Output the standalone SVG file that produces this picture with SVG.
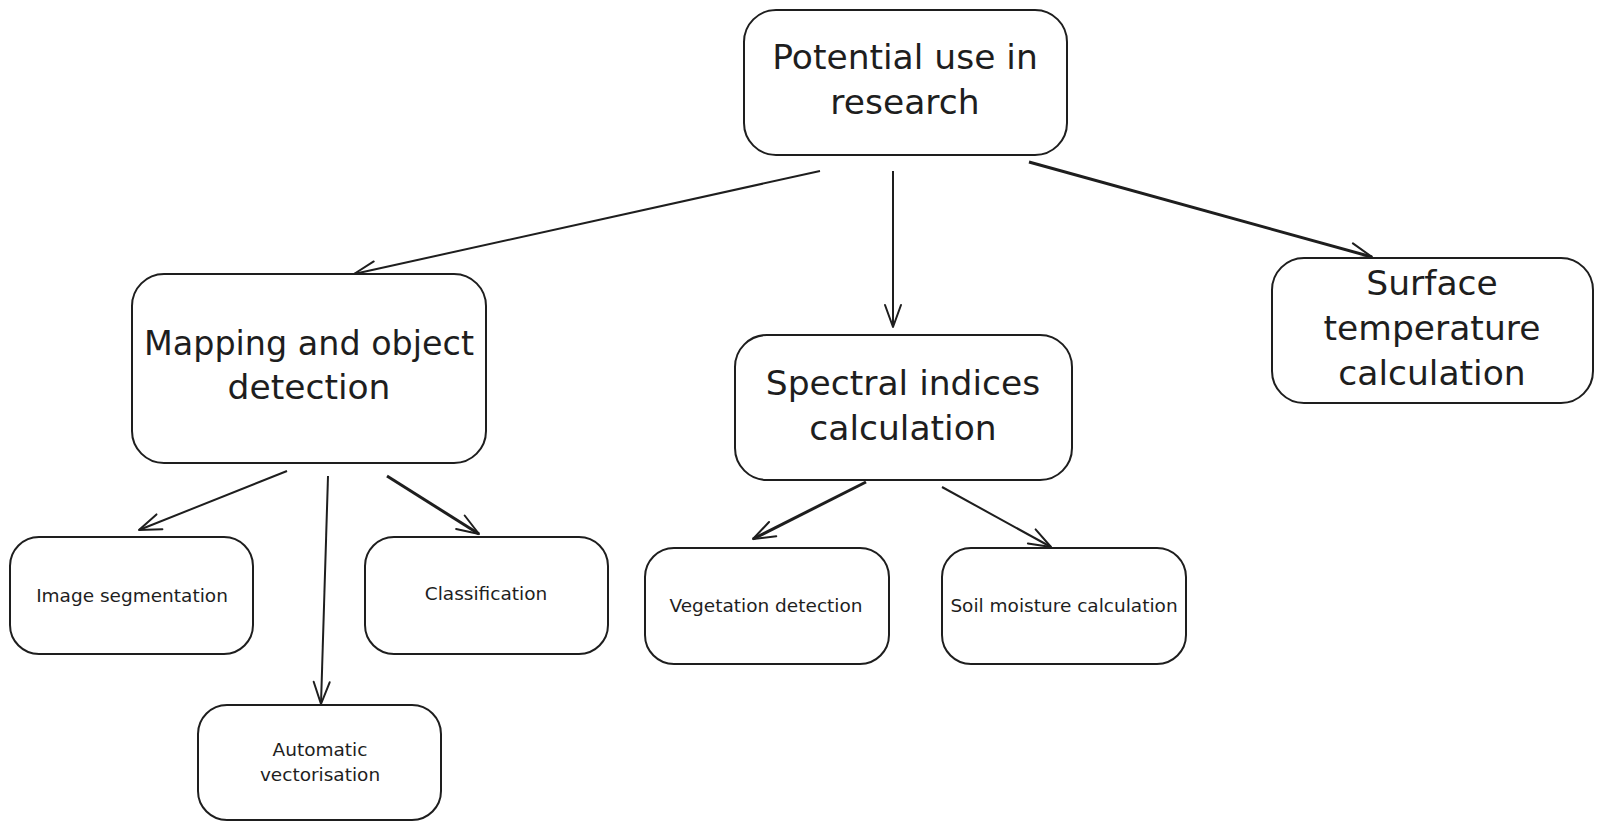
<svg xmlns="http://www.w3.org/2000/svg" width="1602" height="831" viewBox="0 0 1602 831">
<style>
.box{fill:#ffffff;stroke:#1e1e1e;stroke-width:2;}
.big{font-family:"DejaVu Sans",sans-serif;font-size:34.5px;fill:#1e1e1e;text-anchor:middle;}
.small{font-family:"DejaVu Sans",sans-serif;font-size:18.5px;fill:#1e1e1e;text-anchor:middle;}
.conn{fill:none;stroke:#1e1e1e;stroke-width:2;marker-end:url(#arrow);}
.thick{stroke-width:3;}
</style>
<defs>
<marker id="arrow" markerUnits="userSpaceOnUse" viewBox="-24 -12 28 24" refX="0" refY="0" markerWidth="28" markerHeight="24" orient="auto">
<path d="M-22,-8 L0,0 L-22,8" fill="none" stroke="#1e1e1e" stroke-width="2" stroke-linecap="round" stroke-linejoin="round"/>
</marker>
</defs>
<rect width="1602" height="831" fill="#ffffff"/>
<g id="connectors">
<line class="conn" x1="820" y1="171" x2="354" y2="274"/>
<line class="conn" x1="893" y1="171" x2="893" y2="327"/>
<line class="conn thick" x1="1029" y1="162" x2="1372" y2="257"/>
<line class="conn" x1="287" y1="471" x2="139" y2="530"/>
<line class="conn" x1="328" y1="476" x2="321" y2="704"/>
<line class="conn thick" x1="387" y1="476" x2="479" y2="534"/>
<line class="conn thick" x1="866" y1="482" x2="753" y2="539"/>
<line class="conn" x1="942" y1="487" x2="1051" y2="547"/>
</g>
<g id="node-potential">
<rect class="box" x="744" y="10" width="323" height="145" rx="32"/>
<text class="big" x="905" y="69">Potential use in</text>
<text class="big" x="905" y="114">research</text>
</g>
<g id="node-mapping">
<rect class="box" x="132" y="274" width="354" height="189" rx="32"/>
<text class="big" x="309" y="355" textLength="330" lengthAdjust="spacingAndGlyphs">Mapping and object</text>
<text class="big" x="309" y="399">detection</text>
</g>
<g id="node-spectral">
<rect class="box" x="735" y="335" width="337" height="145" rx="32"/>
<text class="big" x="903" y="395">Spectral indices</text>
<text class="big" x="903" y="440">calculation</text>
</g>
<g id="node-surface">
<rect class="box" x="1272" y="258" width="321" height="145" rx="32"/>
<text class="big" x="1432" y="295">Surface</text>
<text class="big" x="1432" y="340">temperature</text>
<text class="big" x="1432" y="385">calculation</text>
</g>
<g id="node-image-segmentation">
<rect class="box" x="10" y="537" width="243" height="117" rx="29"/>
<text class="small" x="132" y="602">Image segmentation</text>
</g>
<g id="node-classification">
<rect class="box" x="365" y="537" width="243" height="117" rx="29"/>
<text class="small" x="486" y="600">Classification</text>
</g>
<g id="node-automatic-vectorisation">
<rect class="box" x="198" y="705" width="243" height="115" rx="29"/>
<text class="small" x="320" y="756">Automatic</text>
<text class="small" x="320" y="781">vectorisation</text>
</g>
<g id="node-vegetation">
<rect class="box" x="645" y="548" width="244" height="116" rx="29"/>
<text class="small" x="766" y="612">Vegetation detection</text>
</g>
<g id="node-soil">
<rect class="box" x="942" y="548" width="244" height="116" rx="29"/>
<text class="small" x="1064" y="612">Soil moisture calculation</text>
</g>
</svg>
